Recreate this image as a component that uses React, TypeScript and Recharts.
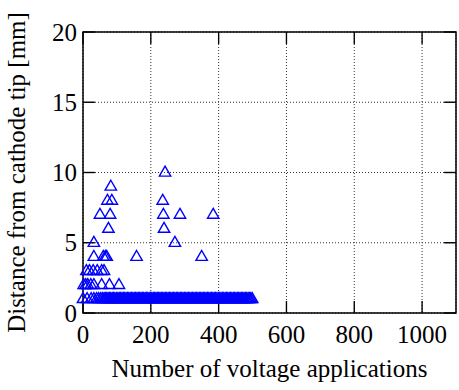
import { ScatterChart, Scatter, XAxis, YAxis, CartesianGrid, ReferenceArea } from 'recharts'

const FONT = 'Liberation Serif'
const BLUE = '#0000ff'

const xTicks = [0, 200, 400, 600, 800, 1000]
const yTicks = [0, 5, 10, 15, 20]
const X_MAX = 1100
const Y_MAX = 20

// inward tick marks as thin filled boxes, in data units (about 12px long, 1.4px thick)
const X_TICK_LEN = 0.85
const X_TICK_HALF = 2
const Y_TICK_LEN = 35
const Y_TICK_HALF = 0.05
// recharts places tick props tickSize (6) + tickMargin (2) away from the axis
const GAP = 8

// nearly every application ends up 1 mm from the tip
const atOneMm = [
  0, 12, 24, 32, 40, 46, 52, 57, 62, 66, 70, 74, 78, 82, 86, 90, 94,
  99, 103, 107, 111, 115, 119, 123, 127, 131, 135, 139, 143, 147, 151, 155, 159,
  163, 167, 171, 175, 179, 183, 187, 191, 195, 199, 203, 207, 211, 215, 219, 223,
  227, 231, 235, 239, 243, 247, 251, 255, 259, 263, 267, 271, 275, 279, 283, 287,
  291, 295, 299, 303, 307, 311, 315, 319, 323, 327, 331, 335, 339, 343, 347, 351,
  355, 359, 363, 367, 371, 375, 379, 383, 387, 391, 395, 399, 403, 407, 411, 415,
  419, 423, 427, 431, 435, 439, 443, 447, 451, 455, 459, 463, 467, 471, 475, 479,
  483, 487, 491, 495, 499,
]

// the scattered ones further out
const farX = [
  2, 8, 14, 23, 32, 55, 78, 106,
  10, 19, 30, 42, 55, 62,
  32, 60, 66, 70, 158, 350,
  32, 271,
  75, 239,
  50, 80, 237, 286, 384,
  72, 85, 235,
  82,
  242,
]
const farY = [
  2, 2, 2, 2, 2, 2, 2, 2,
  3, 3, 3, 3, 3, 3,
  4, 4, 4, 4, 4, 4,
  5, 5,
  6, 6,
  7, 7, 7, 7, 7,
  8, 8, 8,
  9,
  10,
]

const points = [
  ...atOneMm.map(x => ({ n: x, d: 1 })),
  ...farX.map((x, i) => ({ n: x, d: farY[i] })),
]

const Triangle = (p: any) => {
  const { cx, cy } = p
  return (
    <polygon
      points={`${cx},${cy - 6.3} ${cx + 5.7},${cy + 3.6} ${cx - 5.7},${cy + 3.6}`}
      fill="none"
      stroke={BLUE}
      strokeWidth={1.4}
    />
  )
}

const BottomTick = (p: any) => (
  <text x={p.x} y={p.y - GAP + 30} textAnchor="middle" fontSize={25} fontFamily={FONT} fill="#000">
    {p.payload.value}
  </text>
)

const LeftTick = (p: any) => (
  <text x={p.x + GAP - 6} y={p.y + 8.5} textAnchor="end" fontSize={25} fontFamily={FONT} fill="#000">
    {p.payload.value}
  </text>
)

// tick boxes on all four sides: [x1, x2, y1, y2]
const tickBoxes = [
  ...xTicks.flatMap(v => [
    [v - X_TICK_HALF, v + X_TICK_HALF, 0, X_TICK_LEN],
    [v - X_TICK_HALF, v + X_TICK_HALF, Y_MAX - X_TICK_LEN, Y_MAX],
  ]),
  ...yTicks.flatMap(v => [
    [0, Y_TICK_LEN, v - Y_TICK_HALF, v + Y_TICK_HALF],
    [X_MAX - Y_TICK_LEN, X_MAX, v - Y_TICK_HALF, v + Y_TICK_HALF],
  ]),
]

export default function App() {
  return (
    <div style={{ position: 'absolute', left: 0, top: 0, background: '#fff', fontFamily: FONT }}>
      <ScatterChart width={459} height={390} margin={{ top: 32, right: 3, bottom: 0, left: 0 }}>
        <CartesianGrid stroke="#333" strokeDasharray="1 2" />
        <XAxis
          dataKey="n"
          type="number"
          domain={[0, X_MAX]}
          ticks={xTicks}
          height={77}
          axisLine={false}
          tickLine={false}
          tick={BottomTick}
          label={{
            value: 'Number of voltage applications',
            position: 'insideBottom',
            offset: 13,
            style: { fontSize: 25, fontFamily: FONT, fill: '#000' },
          }}
        />
        <YAxis
          dataKey="d"
          type="number"
          domain={[0, Y_MAX]}
          ticks={yTicks}
          width={83}
          axisLine={false}
          tickLine={false}
          tick={LeftTick}
          label={{
            value: 'Distance from cathode tip [mm]',
            angle: -90,
            position: 'insideLeft',
            offset: 16,
            style: { fontSize: 25, fontFamily: FONT, fill: '#000', textAnchor: 'middle' },
          }}
        />
        {tickBoxes.map(([x1, x2, y1, y2], i) => (
          <ReferenceArea
            key={i}
            x1={x1}
            x2={x2}
            y1={y1}
            y2={y2}
            fill="#000"
            fillOpacity={1}
            stroke="none"
            ifOverflow="visible"
          />
        ))}
        <ReferenceArea
          x1={0}
          x2={X_MAX}
          y1={0}
          y2={Y_MAX}
          fill="none"
          fillOpacity={0}
          stroke="#000"
          strokeWidth={1.5}
          ifOverflow="visible"
        />
        <Scatter data={points} shape={Triangle} isAnimationActive={false} />
      </ScatterChart>
    </div>
  )
}
